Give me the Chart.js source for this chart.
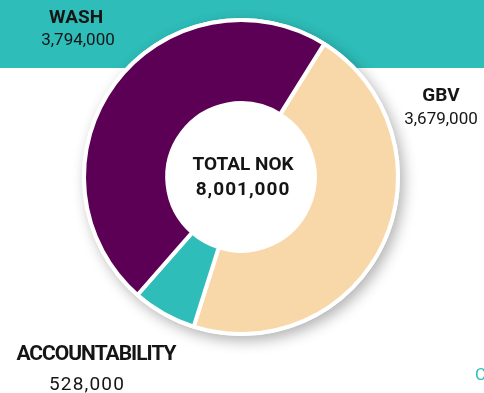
<!DOCTYPE html>
<html>
<head>
<meta charset="utf-8">
<script src="https://cdn.jsdelivr.net/npm/chart.js@4"></script>
<style>
    html, body { margin: 0; padding: 0; background: #fff; }
    #wrap { position: relative; width: 484px; height: 393px; overflow: hidden; font-family: Roboto, sans-serif; }
    .band { position: absolute; left: 0; top: 0; width: 484px; height: 68px; background: #2ebdb9; }
    canvas { position: absolute; left: 0; top: 0; }
    .lbl { position: absolute; transform: translateX(-50%); white-space: nowrap; text-align: center; color: #151515; line-height: 1; }
    .name { font-weight: 700; font-size: 19px; }
    .val { font-size: 17px; }
    .big.name { font-size: 21px; letter-spacing: -1px; }
    .big.val { font-size: 19px; letter-spacing: 1.2px; }
    .total { font-weight: 700; font-size: 19px; }
    .total-val { letter-spacing: 1px; }
    .cut { position: absolute; left: 475px; top: 366px; font-size: 17px; line-height: 1; color: #2ebdb9; }
</style>
</head>
<body>
<div id="wrap">
    <div class="band"></div>
    <canvas id="donut" width="484" height="393"></canvas>
    <div class="cut">C</div>
</div>
<script>
// Chart data (clockwise from the top-right slice)
const categories = ['GBV', 'ACCOUNTABILITY', 'WASH'];
const amounts = [3679000, 528000, 3794000];
const totalTitle = 'TOTAL NOK';

const sliceColors = ['#f8d8a8', '#2ebdb9', '#5c0055'];

// Where each category label sits (centre x, top y of name / value)
const labelSpots = {
    'WASH': { x: 76, valX: 78, nameTop: 7, valTop: 31, cls: '' },
    'GBV': { x: 441, valX: 441, nameTop: 85, valTop: 110, cls: '' },
    'ACCOUNTABILITY': { x: 96, valX: 87, nameTop: 343, valTop: 374, cls: 'big' }
};

const fmt = n => n.toLocaleString('en-US');

// Draws a white disc with a soft shadow under the ring
const ringShadow = {
    id: 'ringShadow',
    beforeDatasetsDraw(chart) {
        const arc = chart.getDatasetMeta(0).data[0];
        const { x, y, outerRadius } = arc.getProps(['x', 'y', 'outerRadius'], true);
        const ctx = chart.ctx;
        ctx.save();
        ctx.shadowColor = 'rgba(0, 0, 0, 0.3)';
        ctx.shadowBlur = 14;
        ctx.shadowOffsetX = 4;
        ctx.shadowOffsetY = 5;
        ctx.fillStyle = '#fff';
        ctx.beginPath();
        ctx.arc(x, y, outerRadius + 2, 0, Math.PI * 2);
        ctx.fill();
        ctx.restore();
    }
};

function addLabel(text, cls, x, top) {
    const el = document.createElement('div');
    el.className = 'lbl ' + cls;
    el.textContent = text;
    el.style.left = x + 'px';
    el.style.top = top + 'px';
    document.getElementById('wrap').appendChild(el);
}

document.addEventListener('DOMContentLoaded', () => {
    const ctx = document.getElementById('donut').getContext('2d');

    new Chart(ctx, {
        type: 'doughnut',
        data: {
            labels: categories,
            datasets: [{
                data: amounts,
                backgroundColor: sliceColors,
                borderColor: '#ffffff',
                borderWidth: 4,
                hoverOffset: 0
            }]
        },
        options: {
            responsive: false,
            animation: false,
            rotation: 32,
            cutout: '47%',
            layout: {
                padding: { left: 82, right: 84, top: 18, bottom: 57 }
            },
            plugins: {
                legend: { display: false },
                tooltip: { enabled: false }
            }
        },
        plugins: [ringShadow]
    });

    // Category labels
    categories.forEach((cat, i) => {
        const spot = labelSpots[cat];
        addLabel(cat, 'name ' + spot.cls, spot.x, spot.nameTop);
        addLabel(fmt(amounts[i]), 'val ' + spot.cls, spot.valX, spot.valTop);
    });

    // Total in the hole
    const total = amounts.reduce((a, b) => a + b, 0);
    addLabel(totalTitle, 'total', 243, 154);
    addLabel(fmt(total), 'total total-val', 243, 179);
});
</script>
</body>
</html>
